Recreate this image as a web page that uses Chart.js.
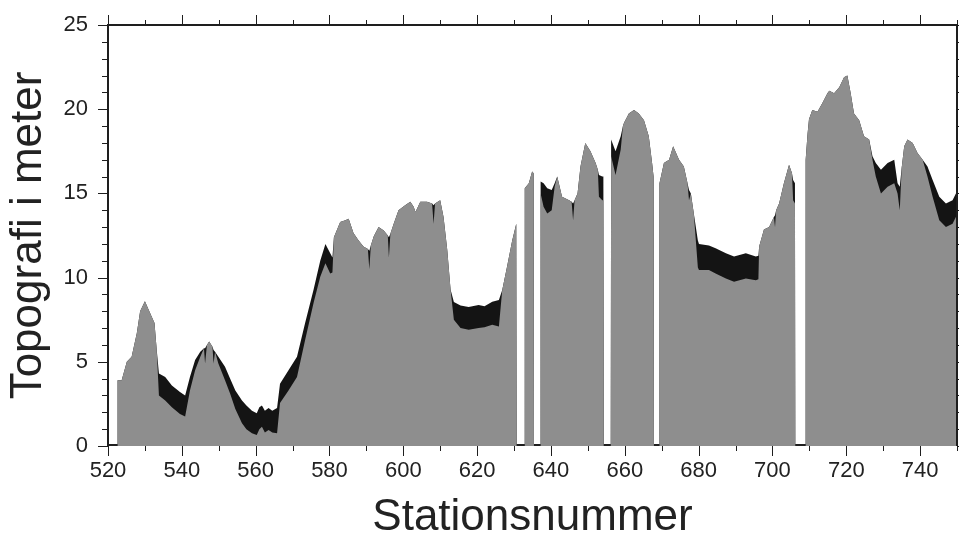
<!DOCTYPE html>
<html>
<head>
<meta charset="utf-8">
<script src="https://cdn.jsdelivr.net/npm/chart.js@4.4.1/dist/chart.umd.min.js"></script>
<style>
  html, body { margin: 0; padding: 0; background: #fff; }
  #wrap { width: 959px; height: 537px; }
</style>
</head>
<body>
<div id="wrap"><canvas id="topo"></canvas></div>
<script>
// ── Profile data ──
// station number, top of black band (upper surface), top of grey area (lower surface)
const stations = [
  520, 522.5, 522.6, 523.7, 525.1, 526.4, 527.8, 528.7, 530.0, 531.4, 532.6, 533.2,
  533.8, 535.5, 537.3, 539.5, 540.9, 542.2, 543.6, 545.0, 546.0, 546.3, 546.8, 547.4,
  548.3, 548.6, 549.0, 549.9, 551.7, 553.1, 554.5, 556.3, 557.5, 559.0, 560.3, 561.0,
  561.7, 562.5, 563.5, 564.5, 565.8, 566.6, 568.9, 571.2, 573.4, 575.7, 577.5, 578.9,
  580.2, 580.8, 581.2, 582.9, 584.3, 585.2, 586.5, 587.9, 589.2, 590.4, 590.8, 591.2,
  592.0, 593.3, 594.7, 595.8, 596.1, 596.5, 597.4, 598.7, 600.5, 601.9, 602.8, 603.3,
  604.6, 606.4, 607.8, 608.2, 608.6, 610.0, 610.9, 611.9, 612.8, 613.7, 615.5, 617.7,
  620.4, 622.0, 624.1, 625.9, 626.8, 628.1, 629.5, 630.6, 630.7, 632.8, 632.9, 634.0,
  634.9, 635.3, 635.4, 637.1, 637.2, 638.0, 639.0, 640.2, 641.0, 641.7, 643.0, 644.9,
  645.6, 646.0, 646.4, 647.2, 648.0, 649.3, 650.7, 652.1, 652.7, 653.0, 653.9, 654.2,
  654.3, 656.2, 656.3, 657.5, 658.9, 659.5, 659.8, 661.1, 662.5, 663.8, 665.2, 666.5,
  667.4, 667.8, 667.9, 669.3, 669.4, 670.6, 672.0, 673.1, 674.7, 676.0, 677.0, 677.4,
  677.9, 678.7, 679.8, 680.1, 682.8, 684.6, 687.4, 689.6, 692.8, 695.5, 696.2, 696.4,
  697.7, 699.1, 700.4, 700.7, 701.0, 701.8, 703.1, 704.5, 705.3, 705.6, 706.1, 706.2,
  708.9, 709.0, 709.5, 709.9, 710.8, 712.2, 713.5, 714.9, 715.4, 716.7, 718.1, 719.4,
  720.3, 721.2, 722.1, 723.5, 724.8, 726.2, 727.1, 728.0, 729.4, 731.2, 733.0, 733.9,
  734.5, 735.0, 735.7, 736.6, 738.0, 739.3, 740.7, 742.0, 743.4, 745.2, 747.0, 748.8,
  749.7, 750
];
const upper = [
  0, 0, 3.9, 3.9, 5.0, 5.3, 6.7, 8.0, 8.6, 7.9, 7.3, 5.7,
  4.3, 4.1, 3.6, 3.2, 3.0, 4.1, 5.1, 5.6, 5.8, 5.8, 6.0, 6.2,
  5.9, 5.7, 5.6, 5.3, 4.7, 4.0, 3.3, 2.7, 2.4, 2.1, 1.95, 2.3,
  2.4, 2.1, 2.25, 2.1, 2.25, 3.7, 4.5, 5.3, 7.3, 9.3, 11.0, 12.0,
  11.45, 11.2, 12.4, 13.3, 13.4, 13.5, 12.65, 12.2, 11.85, 11.7, 11.6, 11.9,
  12.45, 13.0, 12.8, 12.5, 12.4, 12.6, 13.2, 14.0, 14.3, 14.5, 14.2, 13.9,
  14.5, 14.5, 14.4, 14.3, 14.4, 14.6, 13.6, 11.65, 9.3, 8.55, 8.35, 8.25,
  8.37, 8.3, 8.57, 8.67, 9.26, 10.65, 12.2, 13.2, 0, 0, 15.3, 15.6,
  16.3, 16.2, 0, 0, 15.7, 15.6, 15.3, 15.2, 15.6, 16.0, 14.8, 14.6,
  14.5, 14.4, 14.6, 15.0, 16.6, 18.0, 17.5, 16.8, 16.4, 16.1, 16.0, 16.0,
  0, 0, 18.2, 17.5, 18.4, 19.0, 19.2, 19.75, 19.95, 19.75, 19.35, 18.4,
  16.8, 16.0, 0, 0, 15.6, 16.8, 17.0, 17.8, 17.0, 16.6, 15.6, 15.2,
  15.0, 13.8, 12.2, 12.0, 11.9, 11.75, 11.45, 11.25, 11.45, 11.25, 11.3, 11.85,
  12.85, 13.0, 13.6, 13.7, 14.0, 14.4, 15.6, 16.7, 16.2, 15.8, 15.6, 0,
  0, 17.0, 18.5, 19.4, 19.95, 19.85, 20.35, 20.95, 21.1, 20.95, 21.3, 21.9,
  22.0, 20.95, 19.75, 19.35, 18.4, 18.2, 17.2, 16.8, 16.4, 16.8, 17.0, 15.6,
  15.4, 16.5, 17.8, 18.2, 18.0, 17.4, 17.0, 16.6, 15.8, 14.8, 14.4, 14.6,
  15.0, 15.0
];
const lower = [
  0, 0, 3.9, 3.9, 5.0, 5.3, 6.7, 8.0, 8.6, 7.9, 7.3, 5.7,
  3.0, 2.7, 2.3, 1.9, 1.75, 3.3, 4.5, 5.3, 5.8, 4.9, 6.0, 6.2,
  5.9, 4.9, 5.6, 4.9, 3.9, 3.1, 2.2, 1.35, 1.0, 0.75, 0.65, 1.0,
  1.15, 0.8, 0.95, 0.8, 0.75, 2.55, 3.3, 4.1, 6.3, 8.5, 10.05, 10.85,
  10.25, 10.3, 12.4, 13.3, 13.4, 13.5, 12.65, 12.2, 11.85, 11.7, 10.5, 11.9,
  12.45, 13.0, 12.8, 12.5, 11.2, 12.6, 13.2, 14.0, 14.3, 14.5, 14.2, 13.9,
  14.5, 14.5, 14.4, 13.2, 14.4, 14.6, 13.6, 11.65, 9.3, 7.5, 7.0, 6.9,
  7.0, 7.05, 7.2, 7.1, 9.26, 10.65, 12.2, 13.2, 0, 0, 15.3, 15.6,
  16.3, 16.2, 0, 0, 15.0, 14.2, 13.8, 14.0, 15.4, 16.0, 14.8, 14.6,
  14.5, 13.4, 14.6, 15.0, 16.6, 18.0, 17.5, 16.8, 16.4, 14.8, 14.6, 14.6,
  0, 0, 17.2, 16.1, 17.6, 19.0, 19.2, 19.75, 19.95, 19.75, 19.35, 18.4,
  16.8, 16.0, 0, 0, 15.6, 16.8, 17.0, 17.8, 17.0, 16.6, 15.6, 14.6,
  15.0, 13.8, 10.6, 10.45, 10.45, 10.25, 9.95, 9.75, 9.95, 9.85, 9.9, 11.85,
  12.85, 13.0, 13.6, 13.0, 14.0, 14.4, 15.6, 16.7, 16.2, 14.6, 14.4, 0,
  0, 17.0, 18.5, 19.4, 19.95, 19.85, 20.35, 20.95, 21.1, 20.95, 21.3, 21.9,
  22.0, 20.95, 19.75, 19.35, 18.4, 18.2, 17.0, 16.0, 15.0, 15.4, 15.6, 15.0,
  14.0, 16.5, 17.8, 18.2, 18.0, 17.4, 17.0, 16.0, 14.8, 13.4, 13.0, 13.2,
  13.6, 13.6
];

const xMin = 520, xMax = 750, xMinor = 10, xMajor = 20;
const yMin = 0, yMax = 25, yMinor = 1, yMajor = 5;

const INK = '#1e1e1e';
const FONT = '"Liberation Sans", Arial, Helvetica, sans-serif';

// ── GMT style frame: hide bottom line under the fill, ticks on all sides ──
const frame = {
  id: 'frame',
  beforeDatasetsDraw(chart) {
    const { ctx, chartArea: { left, right, bottom } } = chart;
    ctx.save();
    ctx.strokeStyle = INK; ctx.lineWidth = 2;
    ctx.beginPath(); ctx.moveTo(left, bottom - 1); ctx.lineTo(right, bottom - 1); ctx.stroke();
    ctx.restore();
  },
  afterDatasetsDraw(chart) {
    const { ctx, chartArea: { left, right, top, bottom }, scales: { x, y } } = chart;
    ctx.save();
    ctx.strokeStyle = INK;
    ctx.lineWidth = 2;
    ctx.beginPath();
    ctx.moveTo(left, bottom); ctx.lineTo(left, top); ctx.lineTo(right, top); ctx.lineTo(right, bottom);
    ctx.stroke();
    ctx.lineWidth = 1;
    ctx.beginPath();
    x.ticks.forEach(t => {
      const px = Math.round(x.getPixelForValue(t.value)) + 0.5;
      const len = t.value % xMajor === 0 ? 10 : 5;
      ctx.moveTo(px, bottom); ctx.lineTo(px, bottom + len);
      ctx.moveTo(px, top); ctx.lineTo(px, top - len);
    });
    y.ticks.forEach(t => {
      const py = Math.round(y.getPixelForValue(t.value)) + 0.5;
      const len = t.value % yMajor === 0 ? 10 : 6;
      ctx.moveTo(left, py); ctx.lineTo(left - len, py);
      ctx.moveTo(right, py); ctx.lineTo(right + len, py);
    });
    ctx.stroke();
    ctx.restore();
  }
};

const pts = vals => stations.map((s, i) => ({ x: s, y: vals[i] }));

new Chart(document.getElementById('topo'), {
  type: 'line',
  data: {
    datasets: [
      { label: 'lower', data: pts(lower), borderWidth: 0, pointRadius: 0, tension: 0,
        backgroundColor: '#8e8e8e', fill: 'origin' },
      { label: 'upper', data: pts(upper), borderWidth: 0, pointRadius: 0, tension: 0,
        backgroundColor: '#141414', fill: 'origin' }
    ]
  },
  options: {
    responsive: true, maintainAspectRatio: false, animation: false,
    layout: { padding: { top: 25, right: 2, left: 0, bottom: 0 } },
    plugins: { legend: { display: false }, tooltip: { enabled: false } },
    scales: {
      x: {
        type: 'linear', min: xMin, max: xMax,
        afterFit: s => { s.height = 91; },
        grid: { display: false, drawTicks: true, tickLength: 10 },
        border: { display: false },
        ticks: {
          stepSize: xMinor, autoSkip: false, maxRotation: 0, padding: 2,
          color: '#222', font: { family: FONT, size: 22 },
          callback: v => (v % xMajor === 0 ? v : '')
        },
        title: {
          display: true, text: 'Stationsnummer', color: '#222',
          font: { family: FONT, size: 44, lineHeight: 1 },
          padding: { top: 0, bottom: -3 }
        }
      },
      y: {
        min: yMin, max: yMax,
        afterFit: s => { s.width = 108; },
        grid: { display: false, drawTicks: true, tickLength: 10 },
        border: { display: false },
        ticks: {
          stepSize: yMinor, autoSkip: false, padding: 10,
          color: '#222', font: { family: FONT, size: 22 },
          callback: v => (v % yMajor === 0 ? v : '')
        },
        title: {
          display: true, text: 'Topografi i meter', color: '#222',
          font: { family: FONT, size: 44, lineHeight: 1 },
          padding: { top: 7, bottom: 0 }
        }
      }
    }
  },
  plugins: [frame]
});
</script>
</body>
</html>
